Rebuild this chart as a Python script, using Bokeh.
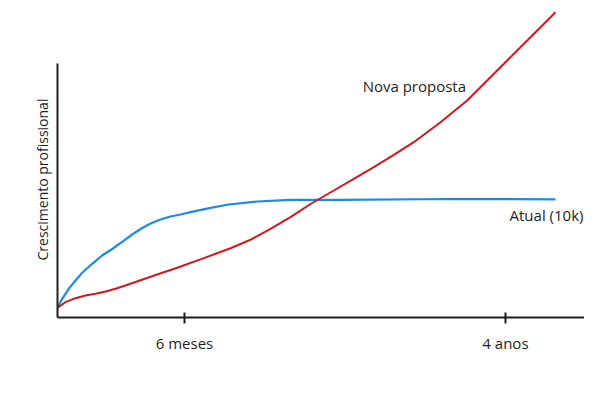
from bokeh.plotting import figure
from bokeh.models import LinearAxis, FixedTicker, Label, Range1d, Title
from bokeh.embed import file_html
from bokeh.resources import INLINE

# data (arbitrary units: x = time, y = professional growth)
atual_x = [0, 0.89, 2.14, 3.42, 4.69, 6.59, 8.48, 10.38, 12.28, 14.17, 16.07, 17.65, 19.54,
           21.44, 23.34, 25.24, 29.03, 32.50, 37.89, 44.21, 53.70, 74.57, 94.50]
atual_y = [3.14, 6.05, 9.29, 11.97, 14.47, 17.38, 20.06, 22.17, 24.50, 26.86, 28.95, 30.40, 31.72,
           32.69, 33.33, 34.08, 35.50, 36.57, 37.54, 38.09, 38.09, 38.35, 38.25]

nova_x = [0, 1.52, 3.42, 5.31, 7.21, 9.11, 11.01, 12.90, 14.80, 18.92, 22.71, 27.13, 32.83,
          36.62, 40.42, 44.21, 48.01, 52.43, 56.22, 60.02, 63.81, 67.61, 70.15, 72.68, 77.74,
          81.54, 85.33, 89.13, 91.65, 94.50]
nova_y = [3.14, 4.98, 6.25, 7.12, 7.67, 8.41, 9.32, 10.36, 11.49, 13.92, 16.08, 18.80, 22.40,
          25.15, 28.71, 32.46, 36.73, 41.10, 44.89, 48.64, 52.65, 56.73, 59.97, 63.20, 70.23,
          76.70, 83.17, 89.64, 93.95, 98.80]

tick_positions = [24.1, 85.0]
tick_labels = ["6 meses", "4 anos"]
y_label = "Crescimento profissional"
atual_name = "Atual (10k)"
nova_name = "Nova proposta"

FONT = "Open Sans"
INK = "#1e1e1e"

p = figure(width=584, height=384, output_backend="svg", toolbar_location=None,
           x_range=Range1d(0, 100), y_range=Range1d(0, 100),
           x_axis_type=None, y_axis_type=None,
           min_border_left=57, min_border_right=0, min_border_top=8, min_border_bottom=67)
p.outline_line_color = None
p.xgrid.visible = False
p.ygrid.visible = False
p.background_fill_color = "white"
p.border_fill_color = "white"

xaxis = LinearAxis(ticker=FixedTicker(ticks=tick_positions),
                   major_label_overrides={t: l for t, l in zip(tick_positions, tick_labels)})
xaxis.axis_line_color = INK
xaxis.axis_line_width = 2
xaxis.major_tick_line_color = INK
xaxis.major_tick_line_width = 2
xaxis.major_tick_in = 5
xaxis.major_tick_out = 6
xaxis.minor_tick_line_color = None
xaxis.major_label_standoff = 9
xaxis.major_label_text_font = FONT
xaxis.major_label_text_font_size = "15px"
xaxis.major_label_text_color = INK
p.add_layout(xaxis, "below")

yaxis = LinearAxis(ticker=FixedTicker(ticks=[]), bounds=(0, 82.2))
yaxis.axis_line_color = INK
yaxis.axis_line_width = 2
yaxis.major_tick_line_color = None
yaxis.minor_tick_line_color = None
yaxis.major_label_text_font_size = "0px"
p.add_layout(yaxis, "left")

ytitle = Title(text=y_label, align="left", offset=57, standoff=12, text_font=FONT,
               text_font_size="14px", text_font_style="normal", text_color=INK)
p.add_layout(ytitle, "left")

p.line(atual_x, atual_y, line_color="#1e8ae6", line_width=2.2)
p.line(nova_x, nova_y, line_color="#d0181e", line_width=2)

p.add_layout(Label(x=57.9, y=74.8, text=nova_name, text_font=FONT, text_font_size="15px",
                   text_color=INK, text_baseline="middle", text_align="left"))
p.add_layout(Label(x=99.8, y=33.3, text=atual_name, text_font=FONT, text_font_size="15px",
                   text_color=INK, text_baseline="middle", text_align="right"))

open("out.html", "w").write(file_html(p, INLINE))
